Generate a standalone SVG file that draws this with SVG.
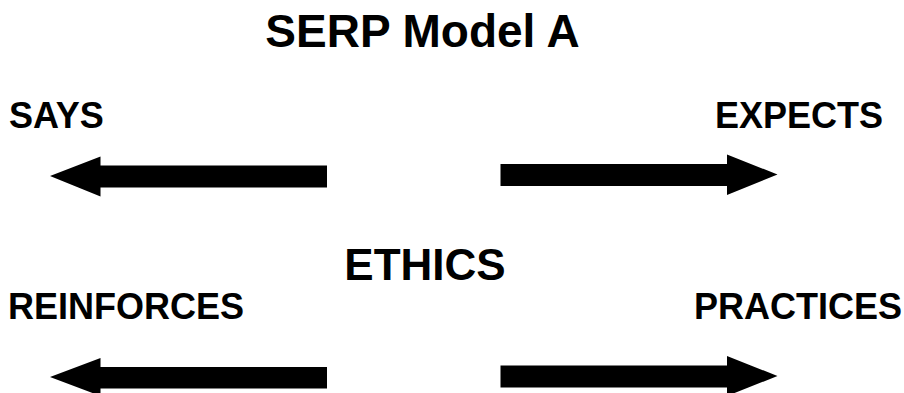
<svg xmlns="http://www.w3.org/2000/svg" width="904" height="393" viewBox="0 0 904 393">
<style>
text{font-family:"Liberation Sans",Arial,sans-serif;font-weight:bold;fill:#000}
.t{font-size:46px}
.e{font-size:44px}
.l{font-size:36px}
.a{fill:#000}
</style>
<rect width="904" height="393" fill="#fff"/>
<g id="title"><text class="t" x="422.5" y="47" text-anchor="middle">SERP Model A</text></g>
<g id="ethics"><text class="e" x="425" y="280" text-anchor="middle">ETHICS</text></g>
<g id="says"><text class="l" x="9" y="128">SAYS</text></g>
<g id="expects"><text class="l" x="715" y="128">EXPECTS</text></g>
<g id="reinforces"><text class="l" x="8" y="319">REINFORCES</text></g>
<g id="practices"><text class="l" x="694" y="319">PRACTICES</text></g>
<g id="connectors">
<polygon class="a" points="327,165.5 100.5,165.5 100.5,156.5 50,176 100.5,196.5 100.5,187.5 327,187.5"/>
<polygon class="a" points="500.5,164 727,164 727,154.5 777.5,174.5 727,195 727,186 500.5,186"/>
<polygon class="a" points="327,367 100.5,367 100.5,358 50,377 100.5,396 100.5,388.5 327,388.5"/>
<polygon class="a" points="500.5,365.5 727,365.5 727,356 777.5,376 727,396 727,387.5 500.5,387.5"/>
</g>
</svg>
